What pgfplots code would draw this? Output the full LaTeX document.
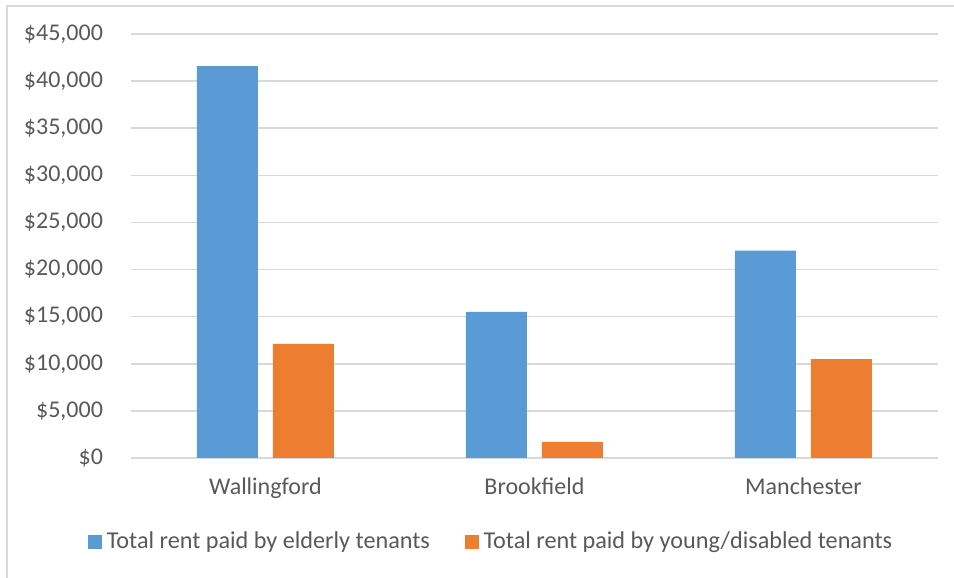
\documentclass[border=0pt]{standalone}
\usepackage{fontspec}
\setmainfont{Carlito}
\usepackage{pgfplots}
\pgfplotsset{compat=1.18}
\definecolor{cblue}{HTML}{5B9BD5}
\definecolor{corange}{HTML}{ED7D31}
\definecolor{cgrid}{HTML}{D9D9D9}
\definecolor{ctext}{HTML}{595959}
\begin{document}
\begin{tikzpicture}
% picture frame (1px = 0.5pt)
\useasboundingbox (-65.5pt,-60pt) rectangle (411.5pt,229pt);
\draw[cgrid, line width=1pt] (-62pt,-60pt) -- (-62pt,226pt) -- (411.5pt,226pt);
\begin{axis}[
    scale only axis,
    width=403.5pt,
    height=212pt,
    ybar=7.5pt,
    bar width=30.5pt,
    xmin=-0.5, xmax=2.5,
    ymin=0, ymax=45000,
    xtick=data,
    xticklabels={Wallingford,Brookfield,Manchester},
    ytick={0,5000,...,45000},
    scaled y ticks=false,
    yticklabel={\$\pgfmathprintnumber{\tick}},
    /pgf/number format/.cd, fixed, precision=0, 1000 sep={,}, assume math mode=true,
    /pgfplots/.cd,
    axis line style={draw=none},
    major tick length=0pt,
    ymajorgrids=true,
    grid style={cgrid, line width=0.75pt},
    extra y ticks={0},
    extra y tick labels={},
    extra y tick style={grid style={cgrid, line width=0.9pt}},
    ticklabel style={font=\fontsize{12}{14}\selectfont, text=ctext},
    yticklabel style={xshift=-10.5pt},
    xticklabel style={yshift=-6.5pt},
    legend style={at={(0.448,-0.198)}, anchor=center, draw=none, fill=none,
        legend columns=2, font=\fontsize{12.1}{14}\selectfont, text=ctext,
        /tikz/every even column/.append style={column sep=15pt},
        nodes={inner sep=2.4pt}},
    legend image code/.code={\fill[#1] (0pt,-3.3pt) rectangle (7pt,3.7pt);},
    clip=false,
]
\addplot[fill=cblue, draw=none] coordinates {(0,41600) (1,15500) (2,22000)};
\addplot[fill=corange, draw=none] coordinates {(0,12100) (1,1700) (2,10500)};
\legend{Total rent paid by elderly tenants, Total rent paid by young/disabled tenants}
\end{axis}
\end{tikzpicture}
\end{document}
